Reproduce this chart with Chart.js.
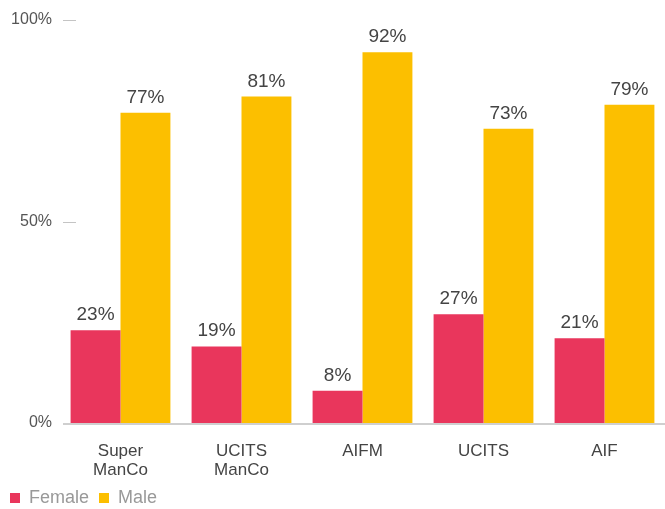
<!DOCTYPE html>
<html>
<head>
<meta charset="utf-8">
<script src="https://cdn.jsdelivr.net/npm/chart.js@4"></script>
<style>
  html,body{margin:0;padding:0;background:#fff;}
  #wrap{width:665px;height:509px;position:relative;}
</style>
</head>
<body>
<div id="wrap"><canvas id="c"></canvas></div>
<script>
const CATEGORIES = [['Super','ManCo'], ['UCITS','ManCo'], 'AIFM', 'UCITS', 'AIF'];
const FEMALE = [23, 19, 8, 27, 21];
const MALE = [77, 81, 92, 73, 79];
const Y_TICKS = [0, 50, 100];

const FONT = '"Liberation Sans", Arial, Helvetica, sans-serif';

// value labels above every bar
const barLabels = {
  id:'barLabels',
  afterDatasetsDraw(chart){
    const ctx = chart.ctx;
    ctx.save();
    ctx.font = '19px ' + FONT;
    ctx.fillStyle = '#444';
    ctx.textAlign = 'center';
    ctx.textBaseline = 'alphabetic';
    chart.data.datasets.forEach((ds,i)=>{
      chart.getDatasetMeta(i).data.forEach((bar,j)=>{
        ctx.fillText(ds.data[j] + '%', bar.x, bar.y - 10);
      });
    });
    ctx.restore();
  }
};

// short tick dashes + baseline, both starting a little right of the plot edge
const axisMarks = {
  id:'axisMarks',
  afterDraw(chart){
    const ctx = chart.ctx, y = chart.scales.y, area = chart.chartArea;
    const x0 = area.left + 3;
    ctx.save();
    ctx.strokeStyle = '#c4c4c4';
    ctx.lineWidth = 1;
    Y_TICKS.forEach(v=>{
      if(v === 0) return;
      const py = Math.round(y.getPixelForValue(v)) + 0.5;
      ctx.beginPath();
      ctx.moveTo(x0, py);
      ctx.lineTo(x0 + 13, py);
      ctx.stroke();
    });
    ctx.strokeStyle = '#cfcfcf';
    ctx.lineWidth = 2;
    const by = y.getPixelForValue(0) + 1;
    ctx.beginPath();
    ctx.moveTo(x0, by);
    ctx.lineTo(chart.width, by);
    ctx.stroke();
    ctx.restore();
  }
};

new Chart(document.getElementById('c'), {
  type:'bar',
  data:{
    labels:CATEGORIES,
    datasets:[
      {label:'Female', data:FEMALE, backgroundColor:'#e9365c', barPercentage:1, categoryPercentage:0.825},
      {label:'Male', data:MALE, backgroundColor:'#fcbf00', barPercentage:1, categoryPercentage:0.825}
    ]
  },
  options:{
    responsive:true,
    maintainAspectRatio:false,
    animation:false,
    layout:{padding:{top:20, left:0, right:-2, bottom:-8}},
    plugins:{
      legend:{
        position:'bottom',
        align:'start',
        labels:{
          boxWidth:10, boxHeight:10, padding:10,
          color:'#999',
          font:{family:FONT, size:18}
        }
      },
      tooltip:{enabled:false}
    },
    scales:{
      x:{
        grid:{display:false, drawTicks:false},
        border:{display:false},
        ticks:{color:'#444', padding:19, font:{family:FONT, size:17, lineHeight:1.1}, maxRotation:0},
        afterFit(s){ s.height = 56; }
      },
      y:{
        min:0, max:100,
        afterBuildTicks(s){ s.ticks = Y_TICKS.map(v=>({value:v})); },
        grid:{display:false, drawTicks:false},
        border:{display:false},
        ticks:{color:'#555', padding:8, font:{family:FONT, size:16}, callback:v=>v + '%'},
        afterFit(s){ s.width = 60; }
      }
    }
  },
  plugins:[barLabels, axisMarks]
});
</script>
</body>
</html>
